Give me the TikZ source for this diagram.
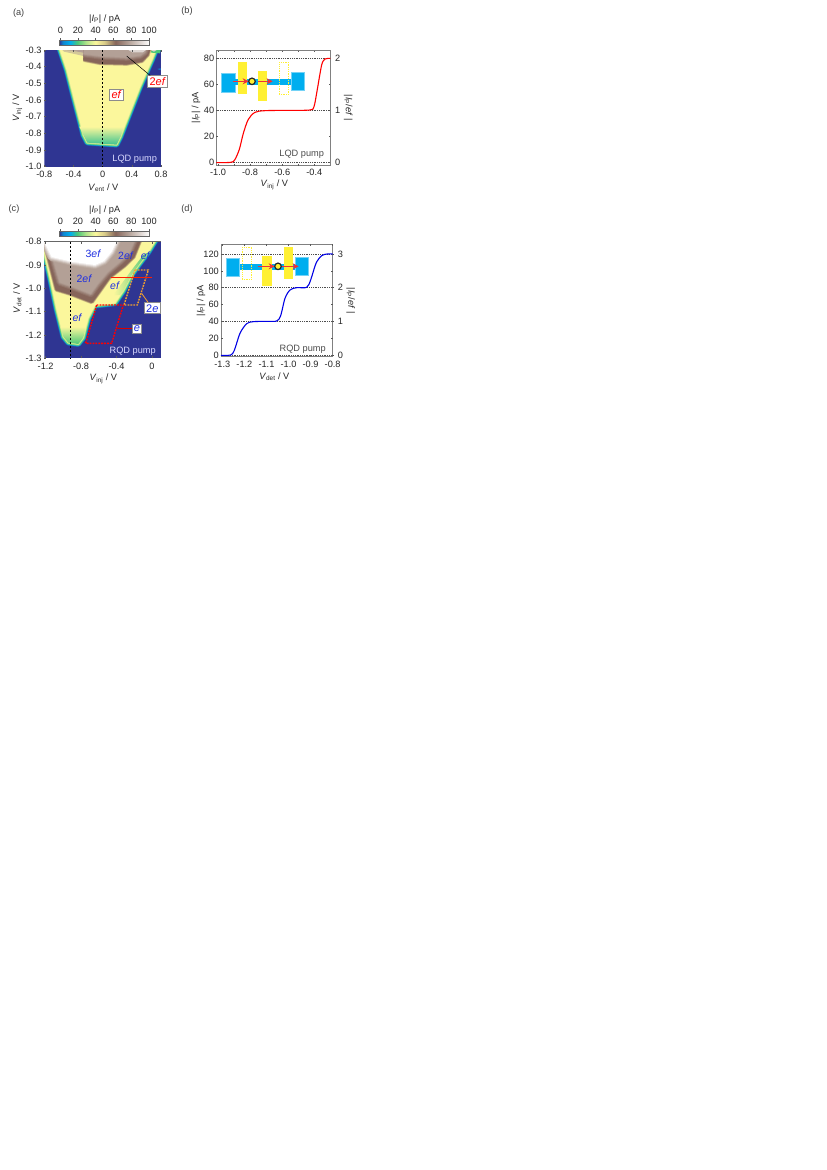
\documentclass[tikz,border=0pt]{standalone}
\usepackage{fontspec}
\setmainfont{Liberation Sans}
\usetikzlibrary{arrows.meta}
\definecolor{mapblue}{HTML}{2F3592}
\definecolor{mapcyan}{HTML}{0E86D0}
\definecolor{mapgreen}{HTML}{4CC878}
\definecolor{maplime}{HTML}{B4E48C}
\definecolor{mapyellow}{HTML}{FBF79C}
\definecolor{mapbrown}{HTML}{86655A}
\definecolor{maptan}{HTML}{B3A096}
\definecolor{mappale}{HTML}{DDD5D1}
\definecolor{leadblue}{HTML}{00AEEF}
\definecolor{gateyellow}{HTML}{FFF033}
\definecolor{pumpred}{HTML}{EE3338}
\definecolor{labelblue}{HTML}{1F2FE0}
\definecolor{dashorange}{HTML}{F0A030}
\pgfdeclarehorizontalshading{cbar}{100bp}{
 color(0bp)=(mapblue); color(25bp)=(mapblue);
 color(27bp)=(mapcyan); color(31bp)=(leadblue); color(35bp)=(mapgreen);
 color(40bp)=(maplime); color(45bp)=(mapyellow); color(50bp)=(mapyellow!70!mapbrown);
 color(56bp)=(mapbrown); color(63bp)=(maptan); color(75bp)=(white); color(100bp)=(white)}
\tikzset{
 every node/.style={font=\fontsize{9.2}{11}\selectfont,inner sep=0pt,text=black!85},
 panel/.style={text=black!75},
 frameline/.style={draw=black!50,line width=1pt},
 tickline/.style={draw=black!65,line width=0.5pt},
 guide/.style={draw=black!70,line width=0.4pt,dash pattern=on 1pt off 0.8pt},
 cutline/.style={draw=black,line width=1.1pt,dash pattern=on 2.4pt off 1.6pt},
 labelbox/.style={fill=white,draw=black!45,line width=0.9pt,inner sep=1.7pt,font=\fontsize{11}{13}\selectfont},
 mapnote/.style={text=labelblue,font=\fontsize{10.5}{12}\selectfont},
 lead/.style={fill=leadblue,draw=leadblue!55,line width=0.4pt},
 wire/.style={fill=leadblue},
 gate/.style={fill=gateyellow,draw=none},
 ghostgate/.style={draw=gateyellow,line width=0.9pt,dash pattern=on 1pt off 0.8pt},
 pumparrow/.style={draw=pumpred,line width=1.3pt,-{Stealth[length=6pt,width=6pt]}},
 dot/.style={circle,fill=gateyellow,draw=black!85,line width=1.2pt,minimum size=6.5pt},
}
\newcommand{\Ip}{\textit{I}\textsubscript{P}}
\newcommand{\Vv}[1]{\textit{V}\textsubscript{#1} / V}
% soft blue-cyan-green-yellow edge
\newcommand{\softedge}[1]{%
 \foreach \w/\c in {6/mapblue!60!mapcyan,5/mapcyan,4.2/leadblue!70!mapgreen,3.4/mapgreen,2.6/mapgreen!50!maplime,1.8/maplime,1/maplime!50!mapyellow}
  {\path[draw=\c,line width=\w pt,line join=round] #1;}
 \path[fill=mapyellow] #1;}
% soft brown band on yellow
\newcommand{\softbrown}[1]{%
 \foreach \w/\c in {5/mapyellow!70!mapbrown,4/mapyellow!40!mapbrown,3/mapyellow!15!mapbrown,2/mapbrown}
  {\path[draw=\c,line width=\w pt,line join=round] #1;}
 \path[fill=mapbrown] #1;}
\newcommand{\softtan}[1]{%
 \foreach \w/\c in {7/mapbrown!80!maptan,5/mapbrown!55!maptan,3/mapbrown!30!maptan,1.5/mapbrown!10!maptan}
  {\path[draw=\c,line width=\w pt,line join=round] #1;}
 \path[fill=maptan] #1;}
\newcommand{\softwhite}[1]{%
 \foreach \w/\c in {8/maptan!90!white,6/maptan!70!white,4/maptan!45!white,2/maptan!20!white}
  {\path[draw=\c,line width=\w pt,line join=round] #1;}
 \path[fill=white] #1;}
\newcommand{\colorbar}[2]{% #1 y top, #2 y bottom
 \path[shading=cbar] (178,#1) rectangle (449,#2);
 \draw[draw=black!60,line width=0.4pt] (178,#1) rectangle (449,#2);
 \foreach \v/\xx in {0/181,20/234,40/287,60/340,80/394,100/447}
  {\draw[tickline] (\xx,#1) -- ++(0,-5);}
}
\begin{document}
\begin{tikzpicture}[x=1pt,y=-1pt]
\useasboundingbox (0,0) rectangle (827,1170);
\fill[white] (0,0) rectangle (827,1170);

%%%%%%%%%%%% (a)
\begin{scope}[x=0.33333pt,y=-0.33333pt]
\node[panel] (pa) at (56,38) {(a)};
\node (acbt) at (314,56) {|\Ip| / pA};
\colorbar{120}{135}
\foreach \v/\xx in {0/181,20/234,40/287,60/340,80/394,100/447}
 \node (actick\v) at (\xx,91) {\v};
\begin{scope}
\clip (133,150) rectangle (483,500);
\fill[mapblue] (133,150) rectangle (483,500);
\def\pa{(178,145) -- (200,210) -- (228,320) -- (250,405) -- (262,428) -- (350,434) -- (362,410) -- (420,262) -- (445,205) -- (457,178) -- (470,145) -- cycle}
\softedge{\pa}
\path[top color=mapyellow,bottom color=mapgreen!80!leadblue] (238,380) -- (250,405) -- (262,428) -- (350,434) -- (362,410) -- (373,380) -- cycle;
\path[fill=mapgreen] (445,150) -- (482,150) -- (480,160) -- (455,158) -- cycle;
\path[fill=mappale] (452,150) -- (470,150) -- (462,155) -- cycle;
\path[fill=mapcyan] (472,207) -- (482,205) -- (482,210) -- cycle;
% 2ef band
\path[fill=maptan!55!mapyellow] (182,145) -- (250,145) -- (250,168) -- (215,160) -- (192,155) -- cycle;
\path[fill=maptan] (190,145) -- (250,145) -- (250,158) -- (215,152) -- (195,150) -- cycle;
\begin{scope}
\clip (250,140) rectangle (483,220);
\softbrown{(240,140) -- (240,176) -- (300,188) -- (380,190) -- (425,182) -- (442,164) -- (450,140) -- cycle}
\softtan{(240,140) -- (240,160) -- (300,168) -- (380,172) -- (420,166) -- (434,156) -- (440,140) -- cycle}
\end{scope}
\path[fill=mappale] (385,150) -- (397,157) -- (428,157) -- (438,150) -- cycle;
\end{scope}
\foreach \v/\yy in {-0.3/150,-0.4/200,-0.5/250,-0.6/300,-0.7/350,-0.8/400,-0.9/450,-1.0/500}
 {\draw[tickline] (133,\yy) -- ++(6,0);
  \node[anchor=east] (ay\yy) at (125,\yy) {\v};}
\foreach \v/\xx in {-0.8/133,-0.4/220.5,0/308,0.4/395.5,0.8/483}
 {\draw[tickline] (\xx,500) -- ++(0,-6);\draw[tickline] (\xx,150) -- ++(0,6);
  \node (ax\v) at (\xx,524) {\v};}
\draw[cutline] (307,150) -- (307,500);
\node[rotate=90] (aylab) at (52,323) {\Vv{inj}};
\node (axlab) at (310,563) {\Vv{ent}};
\node[text=white!85!blue] (anote) at (404,477) {LQD pump};
\node[labelbox,text=red] (b2ef) at (473,245) {2\textit{ef}};
\node[labelbox,text=red] (bef) at (350,285) {\textit{ef}};
\coordinate (aleader) at (380,168);
\draw[black,line width=0.5pt] (b2ef) -- (aleader);
\end{scope}

%%%%%%%%%%%% (b)
\begin{scope}[xshift=190pt,x=0.33333pt,y=-0.33333pt]
\node[panel] (pb) at (-9,34) {(b)};
\foreach \yy in {175,331,488} \draw[guide] (79,\yy) -- (421,\yy);
\draw[frameline] (79,152) rectangle (421,497);
\foreach \xx in {84,132.2,180.3,228.5,276.7,324.8,373} {\draw[tickline] (\xx,152) -- ++(0,5);\draw[tickline] (\xx,497) -- ++(0,-5);}
\foreach \yy in {175,253,331,409,488} {\draw[tickline] (79,\yy) -- ++(5,0);\draw[tickline] (421,\yy) -- ++(-5,0);}
\foreach \v/\yy in {80/175,60/253,40/331,20/409,0/488} \node[anchor=east] (by\v) at (73,\yy) {\v};
\foreach \v/\yy in {2/175,1/331,0/488} \node[anchor=west] (br\v) at (435,\yy) {\v};
\foreach \v/\xx in {-1.0/84,-0.8/180.3,-0.6/276.7,-0.4/373} \node (bx\v) at (\xx,518) {\v};
\draw[red,line width=1.1pt] plot[smooth,tension=0.5] coordinates {(79,488) (122,487) (134,480) (148,448) (160,400) (175,358) (195,337) (225,332) (300,331) (360,330) (372,320) (382,268) (395,195) (405,177) (421,175)};
\path[lead] (95,220) rectangle (135,276);
\path[lead] (303,216) rectangle (343,272);
\path[wire] (135,236) rectangle (303,254);
\path[gate] (143,187) rectangle (171,282);
\path[gate] (204,213) rectangle (231,302);
\draw[ghostgate] (267,187) rectangle (296,284);
\coordinate (bA1) at (128,244); \coordinate (bA2) at (176,244);
\coordinate (bB1) at (204,244); \coordinate (bB2) at (248,244);
\draw[pumparrow] (bA1) -- (bA2);
\draw[pumparrow] (bB1) -- (bB2);
\node[dot] (bdot) at (186,244) {};
\node[rotate=90] (bylab) at (18,323) {|\Ip| / pA};
\node[rotate=-90] (brlab) at (475,323) {|\Ip/\textit{ef} |};
\node (bxlab) at (253,555) {\Vv{inj}};
\node[text=black!70] (bnote) at (335,462) {LQD pump};
\end{scope}

%%%%%%%%%%%% (c)
\begin{scope}[yshift=-195pt,x=0.33333pt,y=-0.33333pt]
\node[panel] (pc) at (42,42) {(c)};
\node (ccbt) at (314,45) {|\Ip| / pA};
\colorbar{108}{124}
\foreach \v/\xx in {0/181,20/234,40/287,60/340,80/394,100/447}
 \node (cctick\v) at (\xx,80) {\v};
\begin{scope}
\clip (133,140) rectangle (483,490);
\fill[mapblue] (133,140) rectangle (483,490);
\def\pc{(125,135) -- (134,180) -- (150,250) -- (170,345) -- (190,425) -- (205,443) -- (235,447) -- (250,428) -- (265,370) -- (285,332) -- (345,325) -- (370,288) -- (395,240) -- (420,205) -- (445,172) -- (468,135) -- cycle}
\softedge{\pc}
\path[top color=mapyellow,bottom color=mapgreen] (181,395) -- (190,425) -- (205,443) -- (235,447) -- (250,428) -- (258,395) -- cycle;
\path[left color=mapyellow,right color=mapgreen] (360,300) -- (340,300) -- (395,225) -- (430,180) -- (445,172) -- (420,205) -- (395,240) -- (370,288) -- cycle;
% 2ef brown regions
\softbrown{(132,135) -- (150,205) -- (170,283) -- (210,295) -- (275,320) -- (298,288) -- (328,246) -- (372,212) -- (400,185) -- (420,135) -- cycle}
\softtan{(142,135) -- (160,195) -- (180,262) -- (215,274) -- (272,296) -- (292,268) -- (322,232) -- (362,198) -- (388,172) -- (404,135) -- cycle}
\softwhite{(130,135) -- (155,186) -- (215,200) -- (285,210) -- (312,198) -- (335,170) -- (352,135) -- cycle}
\end{scope}
\draw[black!60,line width=0.5pt] (133,140) -- (483,140);
\foreach \v/\yy in {-0.8/140,-0.9/210,-1.0/280,-1.1/350,-1.2/420,-1.3/490}
 {\draw[tickline] (133,\yy) -- ++(6,0);
  \node[anchor=east] (cy\v) at (125,\yy) {\v};}
\foreach \v/\xx in {-1.2/137,-0.8/243,-0.4/349.5,0/456}
 {\draw[tickline] (\xx,490) -- ++(0,-6);\draw[tickline] (\xx,140) -- ++(0,6);
  \node (cx\v) at (\xx,514) {\v};}
\draw[cutline] (212,140) -- (212,490);
\node[rotate=90] (cylab) at (52,310) {\Vv{det}};
\node (cxlab) at (310,552) {\Vv{inj}};
\node[text=white!85!blue] (cnote) at (398,468) {RQD pump};
\node[mapnote] (n3ef) at (280,176) {3\textit{ef}};
\node[mapnote] (n2efa) at (378,181) {2\textit{ef}};
\node[mapnote] (nefa) at (437,181) {\textit{ef}};
\node[mapnote] (n2efb) at (253,251) {2\textit{ef}};
\node[mapnote] (nefb) at (345,271) {\textit{ef}};
\node[mapnote] (nefc) at (232,367) {\textit{ef}};
\coordinate (o1) at (405,225); \coordinate (o2) at (445,225); \coordinate (o3) at (412,330); \coordinate (o4) at (372,330);
\coordinate (r1) at (290,330); \coordinate (r2) at (370,330); \coordinate (r3) at (335,445); \coordinate (r4) at (257,445);
\draw[red,line width=1.4pt,dash pattern=on 1.8pt off 1.1pt] (r1) -- (r2) -- (r3) -- (r4) -- cycle;
\draw[dashorange,line width=1.4pt,dash pattern=on 1.8pt off 1.1pt] (o1) -- (o2) -- (o3) -- (o4) -- cycle;
\coordinate (s1) at (333,247); \coordinate (s2) at (455,247);
\draw[red!75!orange,line width=1pt] (s1) -- (s2);
\node[labelbox,text=labelblue] (box2e) at (457,340) {2\textit{e}};
\node[labelbox,text=labelblue] (boxe) at (411,401) {\textit{e}};
\coordinate (ol) at (425,295); \coordinate (rl) at (350,400);
\draw[dashorange,line width=0.8pt] (box2e) -- (ol);
\draw[red!85!black,line width=0.8pt] (boxe) -- (rl);
\end{scope}

%%%%%%%%%%%% (d)
\begin{scope}[xshift=190pt,yshift=-195pt,x=0.33333pt,y=-0.33333pt]
\node[panel] (pd) at (-9,42) {(d)};
\foreach \yy in {177,278,379,481} \draw[guide] (93,\yy) -- (428,\yy);
\draw[frameline] (93,148) rectangle (428,484);
\foreach \xx in {97,163.2,229.4,295.6,361.8,428} {\draw[tickline] (\xx,148) -- ++(0,5);\draw[tickline] (\xx,484) -- ++(0,-5);}
\foreach \yy in {177,228,278,329,379,430,481} {\draw[tickline] (93,\yy) -- ++(5,0);\draw[tickline] (428,\yy) -- ++(-5,0);}
\foreach \v/\yy in {120/177,100/228,80/278,60/329,40/379,20/430,0/481} \node[anchor=east] (dy\v) at (87,\yy) {\v};
\foreach \v/\yy in {3/177,2/278,1/379,0/481} \node[anchor=west] (dr\v) at (443,\yy) {\v};
\foreach \v/\xx in {-1.3/97,-1.2/163.2,-1.1/229.4,-1.0/295.6,-0.9/361.8,-0.8/428} \node (dx\v) at (\xx,508) {\v};
\draw[blue!90!black,line width=1.1pt] plot[smooth,tension=0.5] coordinates {(93,481) (122,480) (133,466) (150,415) (170,386) (190,380) (230,379) (260,378) (272,362) (285,310) (300,285) (320,278) (350,277) (362,255) (378,205) (395,182) (412,177) (428,177)};
\path[lead] (108,189) rectangle (149,245);
\path[lead] (316,186) rectangle (356,242);
\path[wire] (149,206) rectangle (316,224);
\draw[ghostgate] (156,156) rectangle (185,253);
\path[gate] (216,183) rectangle (245,272);
\path[gate] (281,156) rectangle (308,251);
\coordinate (dA1) at (205,214); \coordinate (dA2) at (254,214);
\coordinate (dB1) at (276,214); \coordinate (dB2) at (326,214);
\draw[pumparrow] (dA1) -- (dA2);
\draw[pumparrow] (dB1) -- (dB2);
\node[dot] (ddot) at (264,214) {};
\node[rotate=90] (dylab) at (33,317) {|\Ip| / pA};
\node[rotate=-90] (drlab) at (482,317) {|\Ip/\textit{ef} |};
\node (dxlab) at (253,545) {\Vv{det}};
\node[text=black!70] (dnote) at (338,462) {RQD pump};
\end{scope}
\end{tikzpicture}
\end{document}
